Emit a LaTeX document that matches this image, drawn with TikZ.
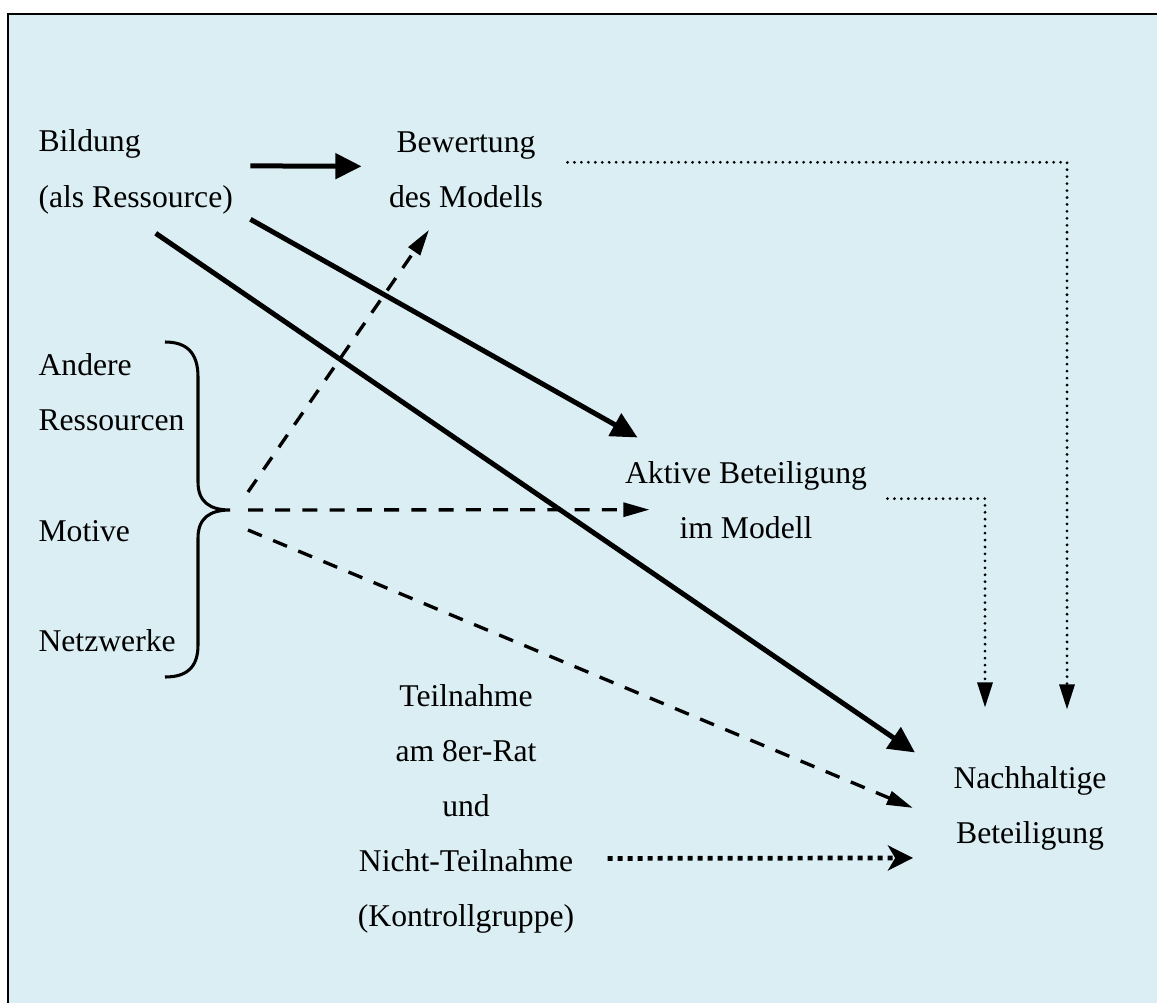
\documentclass[tikz,border=0pt]{standalone}
\usepackage{fontspec}
\setmainfont{Liberation Serif}
\usetikzlibrary{arrows.meta}
\definecolor{paleaqua}{HTML}{DAEEF3}
\tikzset{%
  lbl/.style={inner sep=0pt,font=\fontsize{11.4}{19.8}\selectfont}
}
\tikzset{%
  solidarr/.style={line width=1.8pt,-{Triangle[length=9.4pt,width=9pt]}},
  dasharr/.style={line width=1.2pt,dash pattern=on 5.4pt off 4.4pt,-{Triangle[length=9.4pt,width=5pt]}},
  dotarr/.style={line width=1.1pt,line cap=round,dash pattern=on 0pt off 2.5pt,-{Triangle[length=9pt,width=5.4pt]}},
  dotbold/.style={line width=1.7pt,dash pattern=on 1.8pt off 1.8pt,-{Stealth[length=9pt,width=9pt,inset=2.6pt]}}
}

\begin{document}
\begin{tikzpicture}[x=0.36pt,y=-0.36pt]
  \useasboundingbox (0,0) rectangle (1157,1003);
  \fill[white] (0,0) rectangle (1157,1003);
  \fill[paleaqua] (8,14) rectangle (1157,1003);
  \draw[line width=0.9pt] (8,1003) -- (8,14) -- (1157,14);

  % texts (anchored at the last line)
  \node[lbl,align=left,anchor=base west] (bild) at (38,207) {Bildung\\(als Ressource)};
  \node[lbl,align=center,anchor=base] (bew) at (466,208) {Bewertung\\des Modells};
  \node[lbl,align=left,anchor=base west] (andres) at (38,430) {Andere\\Ressourcen};
  \node[lbl,anchor=base west] (motive) at (38,541) {Motive};
  \node[lbl,anchor=base west] (netz) at (38,651) {Netzwerke};
  \node[lbl,align=center,anchor=base] (akt) at (746,538) {Aktive Beteiligung\\im Modell};
  \node[lbl,align=center,anchor=base] (teil) at (466,926) {Teilnahme\\am 8er-Rat\\und\\Nicht-Teilnahme\\(Kontrollgruppe)};
  \node[lbl,align=center,anchor=base] (nach) at (1030,843) {Nachhaltige\\Beteiligung};

  % brace
  \coordinate (tip) at (230,510);
  \draw[line width=1.1pt] (165,342) .. controls (186,342) and (198,352) .. (198,377)
    -- (198,482) .. controls (198,502) and (210,510) .. (tip)
    .. controls (210,510) and (198,518) .. (198,538)
    -- (198,645) .. controls (198,668) and (186,677) .. (165,677);

  % arrows
  \draw[solidarr] ([shift={(17,-6)}]bild.east) -- ([shift={(-27,-4)}]bew.west);
  \draw[solidarr] ([shift={(17,5)}]bild.south east) -- ([shift={(13,-23)}]akt.north west);
  \draw[solidarr] ([shift={(20,19)}]bild.south) -- ([shift={(-38,-13)}]nach.north west);

  \draw[dasharr] ([shift={(18,-18)}]tip) -- ([shift={(-37,21)}]bew.south);
  \draw[dasharr] ([shift={(18,0)}]tip) -- ([shift={(25,10)}]akt.west);
  \draw[dasharr] ([shift={(18,20)}]tip) -- ([shift={(-40,0)}]nach.west);

  \draw[dotarr] ([shift={(24,-8)}]bew.east) -| ([shift={(37,-56)}]nach.north);
  \draw[dotarr] ([shift={(20,-1)}]akt.east) -| ([shift={(-45,-58)}]nach.north);
  \draw[dotbold] ([shift={(33,50)}]teil.east) -- ([shift={(-40,50)}]nach.west);
\end{tikzpicture}
\end{document}
